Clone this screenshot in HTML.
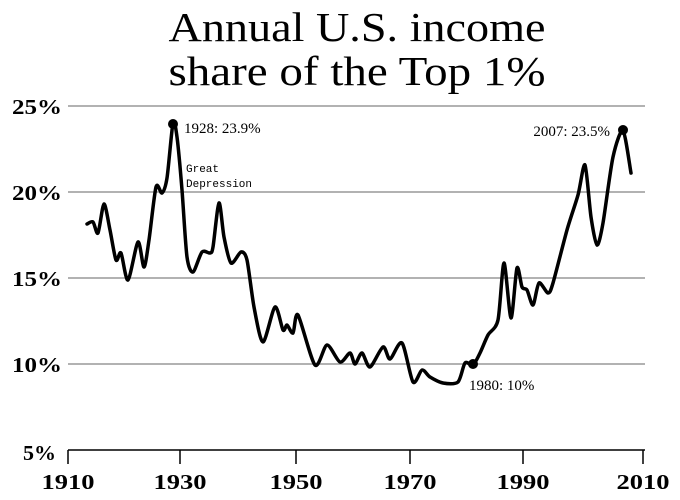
<!DOCTYPE html>
<html><head><meta charset="utf-8"><style>
html,body{margin:0;padding:0;background:#fff;}
svg{display:block;}
</style></head><body>
<svg width="680" height="500" xmlns="http://www.w3.org/2000/svg">
<rect width="680" height="500" fill="#fff"/>
<g font-family="Liberation Serif, serif" font-size="41" fill="#000" text-anchor="middle">
<text x="357" y="41" textLength="377" lengthAdjust="spacingAndGlyphs">Annual U.S. income</text>
<text x="357" y="85" textLength="377" lengthAdjust="spacingAndGlyphs">share of the Top 1%</text>
</g>
<g stroke="#999" stroke-width="1.5">
<line x1="68" y1="106" x2="645" y2="106"/>
<line x1="68" y1="192" x2="645" y2="192"/>
<line x1="68" y1="278" x2="645" y2="278"/>
<line x1="68" y1="364" x2="645" y2="364"/>
</g>
<g stroke="#000" stroke-width="1.5">
<line x1="68" y1="450" x2="645" y2="450"/>
<line x1="68" y1="450" x2="68" y2="464"/>
<line x1="180" y1="450" x2="180" y2="464"/>
<line x1="296" y1="450" x2="296" y2="464"/>
<line x1="410" y1="450" x2="410" y2="464"/>
<line x1="523" y1="450" x2="523" y2="464"/>
<line x1="643" y1="450" x2="643" y2="464"/>
</g>
<g font-family="Liberation Serif, serif" font-size="21" font-weight="bold" fill="#000">
<g text-anchor="end" lengthAdjust="spacingAndGlyphs">
<text x="62" y="114" textLength="50" lengthAdjust="spacingAndGlyphs">25%</text>
<text x="62" y="200" textLength="50" lengthAdjust="spacingAndGlyphs">20%</text>
<text x="62" y="286" textLength="50" lengthAdjust="spacingAndGlyphs">15%</text>
<text x="62" y="372" textLength="50" lengthAdjust="spacingAndGlyphs">10%</text>
<text x="56" y="460" textLength="33" lengthAdjust="spacingAndGlyphs">5%</text>
</g>
<g text-anchor="middle">
<text x="68" y="489" textLength="53" lengthAdjust="spacingAndGlyphs">1910</text>
<text x="180" y="489" textLength="53" lengthAdjust="spacingAndGlyphs">1930</text>
<text x="296" y="489" textLength="53" lengthAdjust="spacingAndGlyphs">1950</text>
<text x="410" y="489" textLength="53" lengthAdjust="spacingAndGlyphs">1970</text>
<text x="523" y="489" textLength="53" lengthAdjust="spacingAndGlyphs">1990</text>
<text x="643" y="489" textLength="53" lengthAdjust="spacingAndGlyphs">2010</text>
</g>
</g>
<path id="curve" fill="none" stroke="#000" stroke-width="3.5" stroke-linejoin="round" stroke-linecap="round" d=""/>
<circle cx="173" cy="124" r="5" fill="#000"/>
<circle cx="473" cy="364" r="5" fill="#000"/>
<circle cx="623" cy="130" r="5" fill="#000"/>
<g font-family="Liberation Serif, serif" font-size="15" fill="#000">
<text x="184" y="133">1928: 23.9%</text>
<text x="610" y="136" text-anchor="end">2007: 23.5%</text>
<text x="469" y="390">1980: 10%</text>
</g>
<g font-family="Liberation Mono, monospace" font-size="11" fill="#000">
<text x="186" y="172">Great</text>
<text x="186" y="187">Depression</text>
</g>
</svg>
<script>
var s="87,224 93,222 98,233 104,204 110,230 116,260 121,253 128,280 138,242 144,267 149,240 156,187 162,193 167,178 173,123 177,137 182,190 187,257 193,272 202,252 210,253 213,247 219,203 224,237 231,263 241,252 247,260 254,307 263,342 275,307 283,330 287,325 293,333 298,315 315,365 327,345 340,362 350,353 355,364 362,353 370,367 383,347 390,359 402,343 413,382 422,370 430,377 443,383 458,382 465,363 473,365 480,353 488,335 498,320 504,263 511,318 517,268 522,287 527,290 533,305 539,283 548,293 553,283 567,230 578,195 585,165 591,217 597,245 603,223 613,157 623,131 631,173";
var p=s.split(" ").map(function(t){return t.split(",").map(Number);});
var d="M"+p[0][0]+","+p[0][1];
for(var i=0;i<p.length-1;i++){
var a=p[Math.max(i-1,0)],b=p[i],c=p[i+1],e=p[Math.min(i+2,p.length-1)];
var t=0.5/3;
var c1=[b[0]+(c[0]-a[0])*t*0.8,b[1]+(c[1]-a[1])*t*0.8];
var c2=[c[0]-(e[0]-b[0])*t*0.8,c[1]-(e[1]-b[1])*t*0.8];
d+=" C"+c1[0].toFixed(1)+","+c1[1].toFixed(1)+" "+c2[0].toFixed(1)+","+c2[1].toFixed(1)+" "+c[0]+","+c[1];
}
document.getElementById("curve").setAttribute("d",d);
</script>
</body></html>
